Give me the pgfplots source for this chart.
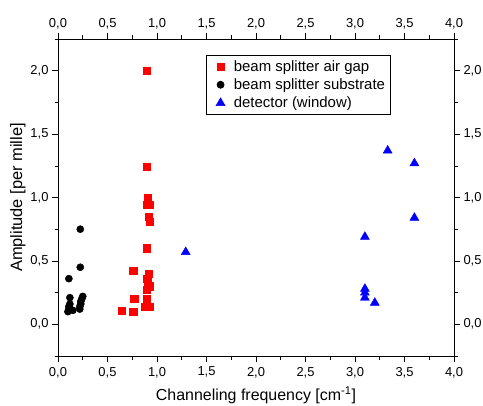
\documentclass[border=0pt]{standalone}
\usepackage{fontspec}
\setmainfont{Liberation Sans}
\usepackage{pgfplots}
\pgfplotsset{compat=1.18}
\pgfplotsset{
  myleg/.style={legend image code/.code={\path (0bp,0bp) (22bp,0bp); \draw[##1] plot coordinates {(11bp,0bp)};}},
  common/.style={
    scale only axis, width=396bp, height=317bp,
    xmin=0, xmax=4, ymin=-0.25, ymax=2.25,
    xtick={0,0.5,...,4}, ytick={0,0.5,...,2},
    minor xtick={0.25,0.75,...,3.75}, minor ytick={-0.25,0.25,0.75,1.25,1.75,2.25},
    tick align=outside,
    major tick length=6bp, minor tick length=3.5bp,
    every tick/.style={black, line width=0.6pt},
    axis line style={line width=0.8pt},
    /pgf/number format/assume math mode=true,
    /pgf/number format/use comma,
    /pgf/number format/fixed,
    /pgf/number format/fixed zerofill,
    /pgf/number format/precision=1,
    tick label style={font=\fontsize{13}{15}\selectfont},
  }
}
\begin{document}
\begin{tikzpicture}
\begin{axis}[common, name=ax,
  xlabel={Channeling frequency [cm\textsuperscript{-1}]},
  ylabel={Amplitude [per mille]},
  label style={font=\fontsize{16.5}{19}\selectfont},
  xlabel style={font=\fontsize{16}{18}\selectfont, yshift=-2bp},
  ylabel style={yshift=-2bp},
  xticklabel style={yshift=-1.5bp},
  legend style={at={(0.3737,0.9495)}, anchor=north west, draw=black, line width=0.6pt,
    font=\fontsize{15}{18}\selectfont, row sep=2pt, inner xsep=3pt, inner ysep=3pt},
  legend cell align=left,
]
\addplot[only marks, mark=square*, mark size=3.6, color=red, myleg] coordinates {
(0.90,2.00) (0.90,1.24) (0.91,1.00) (0.90,0.94) (0.93,0.94) (0.92,0.85) (0.93,0.81)
(0.90,0.60) (0.76,0.42) (0.92,0.40) (0.90,0.36) (0.91,0.34) (0.93,0.30) (0.90,0.27)
(0.77,0.20) (0.90,0.20) (0.88,0.14) (0.93,0.14) (0.64,0.11) (0.76,0.10)
};
\addlegendentry{beam splitter air gap}
\addplot[only marks, mark=*, mark size=3.6, color=black, myleg] coordinates {
(0.10,0.10) (0.11,0.12) (0.11,0.14) (0.12,0.16) (0.12,0.21) (0.11,0.36)
(0.15,0.11) (0.22,0.12) (0.22,0.14) (0.23,0.16) (0.23,0.18) (0.24,0.20)
(0.25,0.22) (0.225,0.45) (0.225,0.75)
};
\addlegendentry{beam splitter substrate}
\addplot[only marks, mark=triangle*, mark size=5.2, color=blue, myleg] coordinates {
(1.29,0.57) (3.33,1.37) (3.60,1.27) (3.60,0.84) (3.10,0.69)
(3.10,0.28) (3.10,0.25) (3.10,0.21) (3.20,0.17)
};
\addlegendentry{detector (window)}
\end{axis}
\begin{axis}[common,
  xticklabel pos=upper, yticklabel pos=right,
]
\end{axis}
\pgfresetboundingbox
\path[use as bounding box] ([shift={(-58bp,39bp)}]ax.north west) rectangle ([shift={(29bp,-49bp)}]ax.south east);
\end{tikzpicture}
\end{document}
